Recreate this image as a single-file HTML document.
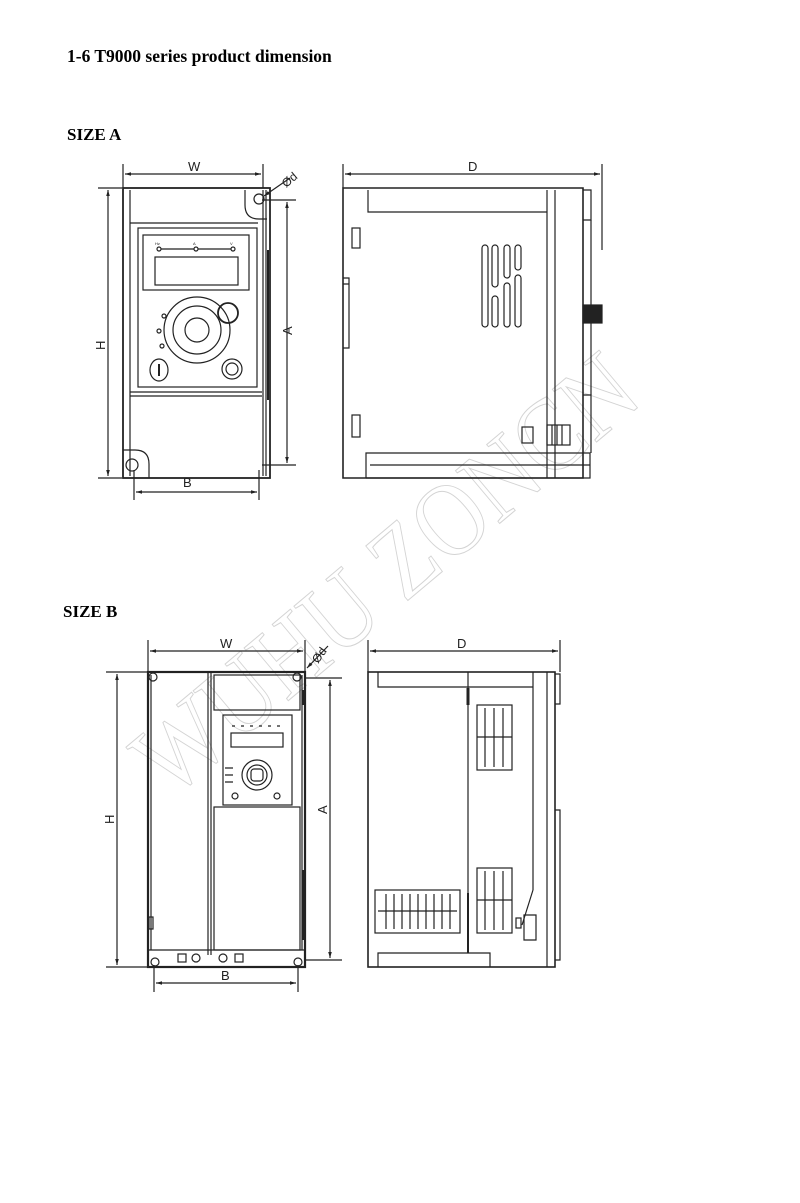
<!DOCTYPE html>
<html><head><meta charset="utf-8"><style>
html,body{margin:0;padding:0;background:#fff;}
svg{display:block;}
.t{font-family:"Liberation Serif",serif;font-weight:bold;fill:#000;}
.l{font-family:"Liberation Sans",sans-serif;font-size:13px;fill:#222;}
</style></head><body>
<svg width="800" height="1203" viewBox="0 0 800 1203" xmlns="http://www.w3.org/2000/svg">
<defs>
<marker id="ar" viewBox="0 0 10 10" refX="10" refY="5" markerWidth="7" markerHeight="5" orient="auto-start-reverse"><path d="M0,2 L10,5 L0,8 z" fill="#222"/></marker>
</defs>
<text class="t" x="67" y="62" font-size="17.5">1-6 T9000 series product dimension</text>
<text class="t" x="67" y="140" font-size="17">SIZE A</text>
<text class="t" x="63" y="617" font-size="17">SIZE B</text>

<!-- watermark -->
<text x="0" y="0" font-family="Liberation Serif,serif" font-size="105" fill="none" stroke="#d4d4d4" stroke-width="1" textLength="620" lengthAdjust="spacingAndGlyphs" transform="translate(170,800) rotate(-40)">WUHU ZONCN</text>

<g stroke="#222" fill="none" stroke-width="1.2">
<!-- ===== SIZE A FRONT ===== -->
<line x1="123" y1="164" x2="123" y2="188"/><line x1="263" y1="164" x2="263" y2="188"/>
<line x1="125" y1="174" x2="261" y2="174" marker-start="url(#ar)" marker-end="url(#ar)"/>
<line x1="98" y1="188" x2="122" y2="188"/><line x1="98" y1="478" x2="122" y2="478"/>
<line x1="108" y1="190" x2="108" y2="476" marker-start="url(#ar)" marker-end="url(#ar)"/>
<line x1="262" y1="200" x2="296" y2="200"/><line x1="262" y1="465" x2="296" y2="465"/>
<line x1="287" y1="202" x2="287" y2="463" marker-start="url(#ar)" marker-end="url(#ar)"/>
<line x1="134" y1="470" x2="134" y2="500"/><line x1="259" y1="470" x2="259" y2="500"/>
<line x1="136" y1="492" x2="257" y2="492" marker-start="url(#ar)" marker-end="url(#ar)"/>
<line x1="290" y1="178" x2="264" y2="196" marker-end="url(#ar)"/>
<rect x="123" y="188" width="147" height="290" stroke-width="1.8"/>
<line x1="130" y1="190" x2="130" y2="476"/><line x1="263" y1="190" x2="263" y2="476"/>
<line x1="266" y1="190" x2="266" y2="476"/>
<line x1="130" y1="223" x2="258" y2="223"/>
<path d="M245,190 v15 q0,14 14,14 h8"/>
<circle cx="259" cy="199" r="5"/>
<rect x="138" y="228" width="119" height="159"/>
<rect x="143" y="235" width="106" height="55"/>
<rect x="155" y="257" width="83" height="28"/>
<circle cx="159" cy="249" r="2"/><circle cx="196" cy="249" r="2"/><circle cx="233" cy="249" r="2"/>
<line x1="161" y1="249" x2="194" y2="249"/><line x1="198" y1="249" x2="231" y2="249"/>
<circle cx="197" cy="330" r="33"/><circle cx="197" cy="330" r="12"/>
<circle cx="197" cy="330" r="24"/>
<circle cx="228" cy="313" r="10" stroke-width="1.8"/>
<circle cx="164" cy="316" r="2"/><circle cx="159" cy="331" r="2"/><circle cx="162" cy="346" r="2"/>
<ellipse cx="159" cy="370" rx="9" ry="11"/><line x1="159" y1="364" x2="159" y2="376" stroke-width="2"/>
<circle cx="232" cy="369" r="10"/><circle cx="232" cy="369" r="6"/>
<line x1="130" y1="392" x2="262" y2="392"/><line x1="130" y1="396" x2="262" y2="396"/>
<path d="M123,450 h12 q14,0 14,14 v14"/>
<circle cx="132" cy="465" r="6"/>
<line x1="268" y1="250" x2="268" y2="400" stroke-width="2"/>

<!-- ===== SIZE A SIDE ===== -->
<line x1="343" y1="164" x2="343" y2="188"/><line x1="602" y1="164" x2="602" y2="250"/>
<line x1="345" y1="174" x2="600" y2="174" marker-start="url(#ar)" marker-end="url(#ar)"/>
<path d="M343,188 H583 V478 H343 Z" stroke-width="1.6"/>
<path d="M368,190 V212 H547"/>
<line x1="547" y1="190" x2="547" y2="478"/>
<line x1="555" y1="190" x2="555" y2="478"/>
<path d="M583,190 h8 v30 h-8"/>
<path d="M591,220 V305 M591,323 V395"/>
<rect x="583" y="305" width="19" height="18" fill="#222"/>
<path d="M583,395 h8 v58"/>
<path d="M366,478 V453 H590 V478 H366"/>
<line x1="370" y1="465" x2="590" y2="465"/>
<rect x="352" y="228" width="8" height="20"/><rect x="352" y="415" width="8" height="22"/>
<path d="M343,278 h6 v6 h-6 M349,284 v60 M343,348 h6 v-4"/>
<rect x="482" y="245" width="6" height="82" rx="3"/>
<rect x="492" y="245" width="6" height="42" rx="3"/><rect x="492" y="296" width="6" height="31" rx="3"/>
<rect x="504" y="245" width="6" height="33" rx="3"/><rect x="504" y="283" width="6" height="44" rx="3"/>
<rect x="515" y="245" width="6" height="25" rx="3"/><rect x="515" y="275" width="6" height="52" rx="3"/>
<rect x="522" y="427" width="11" height="16"/>
<rect x="547" y="425" width="23" height="20"/>
<line x1="552" y1="425" x2="552" y2="445"/><line x1="557" y1="425" x2="557" y2="445"/><line x1="562" y1="425" x2="562" y2="445"/>

<!-- ===== SIZE B FRONT ===== -->
<line x1="148" y1="640" x2="148" y2="672"/><line x1="305" y1="640" x2="305" y2="672"/>
<line x1="150" y1="651" x2="303" y2="651" marker-start="url(#ar)" marker-end="url(#ar)"/>
<line x1="106" y1="672" x2="147" y2="672"/><line x1="106" y1="967" x2="147" y2="967"/>
<line x1="117" y1="674" x2="117" y2="965" marker-start="url(#ar)" marker-end="url(#ar)"/>
<line x1="306" y1="678" x2="342" y2="678"/><line x1="306" y1="960" x2="342" y2="960"/>
<line x1="330" y1="680" x2="330" y2="958" marker-start="url(#ar)" marker-end="url(#ar)"/>
<line x1="154" y1="965" x2="154" y2="992"/><line x1="298" y1="965" x2="298" y2="992"/>
<line x1="156" y1="983" x2="296" y2="983" marker-start="url(#ar)" marker-end="url(#ar)"/>
<line x1="328" y1="646" x2="307" y2="668" marker-end="url(#ar)"/>
<rect x="148" y="672" width="157" height="295" stroke-width="2.2"/>
<line x1="151" y1="675" x2="151" y2="950"/><line x1="302" y1="675" x2="302" y2="950"/>
<line x1="208" y1="672" x2="208" y2="955"/><line x1="211" y1="672" x2="211" y2="955"/>
<rect x="214" y="675" width="86" height="35"/>
<rect x="223" y="715" width="69" height="90"/>
<line x1="232" y1="726" x2="280" y2="726" stroke-dasharray="3 6"/>
<rect x="231" y="733" width="52" height="14"/>
<circle cx="257" cy="775" r="15"/><circle cx="257" cy="775" r="10"/><rect x="251" y="769" width="12" height="12" rx="3"/>
<path d="M225,768 h8 M225,775 h8 M225,782 h8"/>
<circle cx="235" cy="796" r="3"/><circle cx="277" cy="796" r="3"/>
<rect x="214" y="807" width="86" height="143"/>
<line x1="148" y1="950" x2="305" y2="950"/>
<circle cx="155" cy="962" r="4"/><circle cx="298" cy="962" r="4"/>
<circle cx="153" cy="677" r="4"/><circle cx="297" cy="677" r="4"/>
<rect x="178" y="954" width="8" height="8"/><rect x="235" y="954" width="8" height="8"/>
<circle cx="196" cy="958" r="4"/><circle cx="223" cy="958" r="4"/>
<line x1="303" y1="690" x2="303" y2="705" stroke-width="2"/><line x1="303" y1="870" x2="303" y2="940" stroke-width="2"/>
<rect x="149" y="917" width="4" height="12"/>

<!-- ===== SIZE B SIDE ===== -->
<line x1="368" y1="640" x2="368" y2="672"/><line x1="560" y1="640" x2="560" y2="672"/>
<line x1="370" y1="651" x2="558" y2="651" marker-start="url(#ar)" marker-end="url(#ar)"/>
<rect x="368" y="672" width="187" height="295" stroke-width="1.6"/>
<path d="M378,672 V687 H533"/>
<line x1="468" y1="672" x2="468" y2="953"/>
<line x1="468" y1="688" x2="468" y2="705" stroke-width="3"/>
<line x1="533" y1="672" x2="533" y2="890"/><line x1="533" y1="890" x2="522" y2="925"/>
<line x1="547" y1="672" x2="547" y2="967"/>
<path d="M555,674 h5 v30 h-5 M555,810 h5 v150 h-5"/>
<rect x="477" y="705" width="35" height="65"/>
<line x1="485" y1="708" x2="485" y2="767"/><line x1="494" y1="708" x2="494" y2="767"/><line x1="503" y1="708" x2="503" y2="767"/>
<line x1="477" y1="737" x2="512" y2="737"/>
<rect x="477" y="868" width="35" height="65"/>
<line x1="485" y1="871" x2="485" y2="930"/><line x1="494" y1="871" x2="494" y2="930"/><line x1="503" y1="871" x2="503" y2="930"/>
<line x1="477" y1="900" x2="512" y2="900"/>
<rect x="375" y="890" width="85" height="43"/>
<g>
<line x1="386" y1="894" x2="386" y2="929"/><line x1="394" y1="894" x2="394" y2="929"/><line x1="402" y1="894" x2="402" y2="929"/><line x1="410" y1="894" x2="410" y2="929"/><line x1="418" y1="894" x2="418" y2="929"/><line x1="426" y1="894" x2="426" y2="929"/><line x1="434" y1="894" x2="434" y2="929"/><line x1="442" y1="894" x2="442" y2="929"/><line x1="450" y1="894" x2="450" y2="929"/>
<line x1="378" y1="911" x2="457" y2="911"/>
</g>
<line x1="468" y1="893" x2="468" y2="953" stroke-width="2"/>
<path d="M378,967 V953 H490 V967"/>
<rect x="516" y="918" width="5" height="10"/>
<path d="M524,915 h12 v25 h-12 z"/>
</g>

<g class="l">
<text x="188" y="171">W</text>
<text x="468" y="171">D</text>
<text x="183" y="487">B</text>
<text transform="translate(105,350) rotate(-90)">H</text>
<text transform="translate(292,335) rotate(-90)">A</text>
<text transform="translate(286,188) rotate(-40)" font-size="12">Ød</text>
<text x="220" y="648">W</text>
<text x="457" y="648">D</text>
<text x="221" y="980">B</text>
<text transform="translate(114,824) rotate(-90)">H</text>
<text transform="translate(327,814) rotate(-90)">A</text>
<text transform="translate(318,664) rotate(-55)" font-size="12">Ød</text>
<text x="155" y="245" font-size="4">Hz</text><text x="193" y="245" font-size="4">A</text><text x="230" y="245" font-size="4">V</text>
</g>
</svg>
</body></html>
